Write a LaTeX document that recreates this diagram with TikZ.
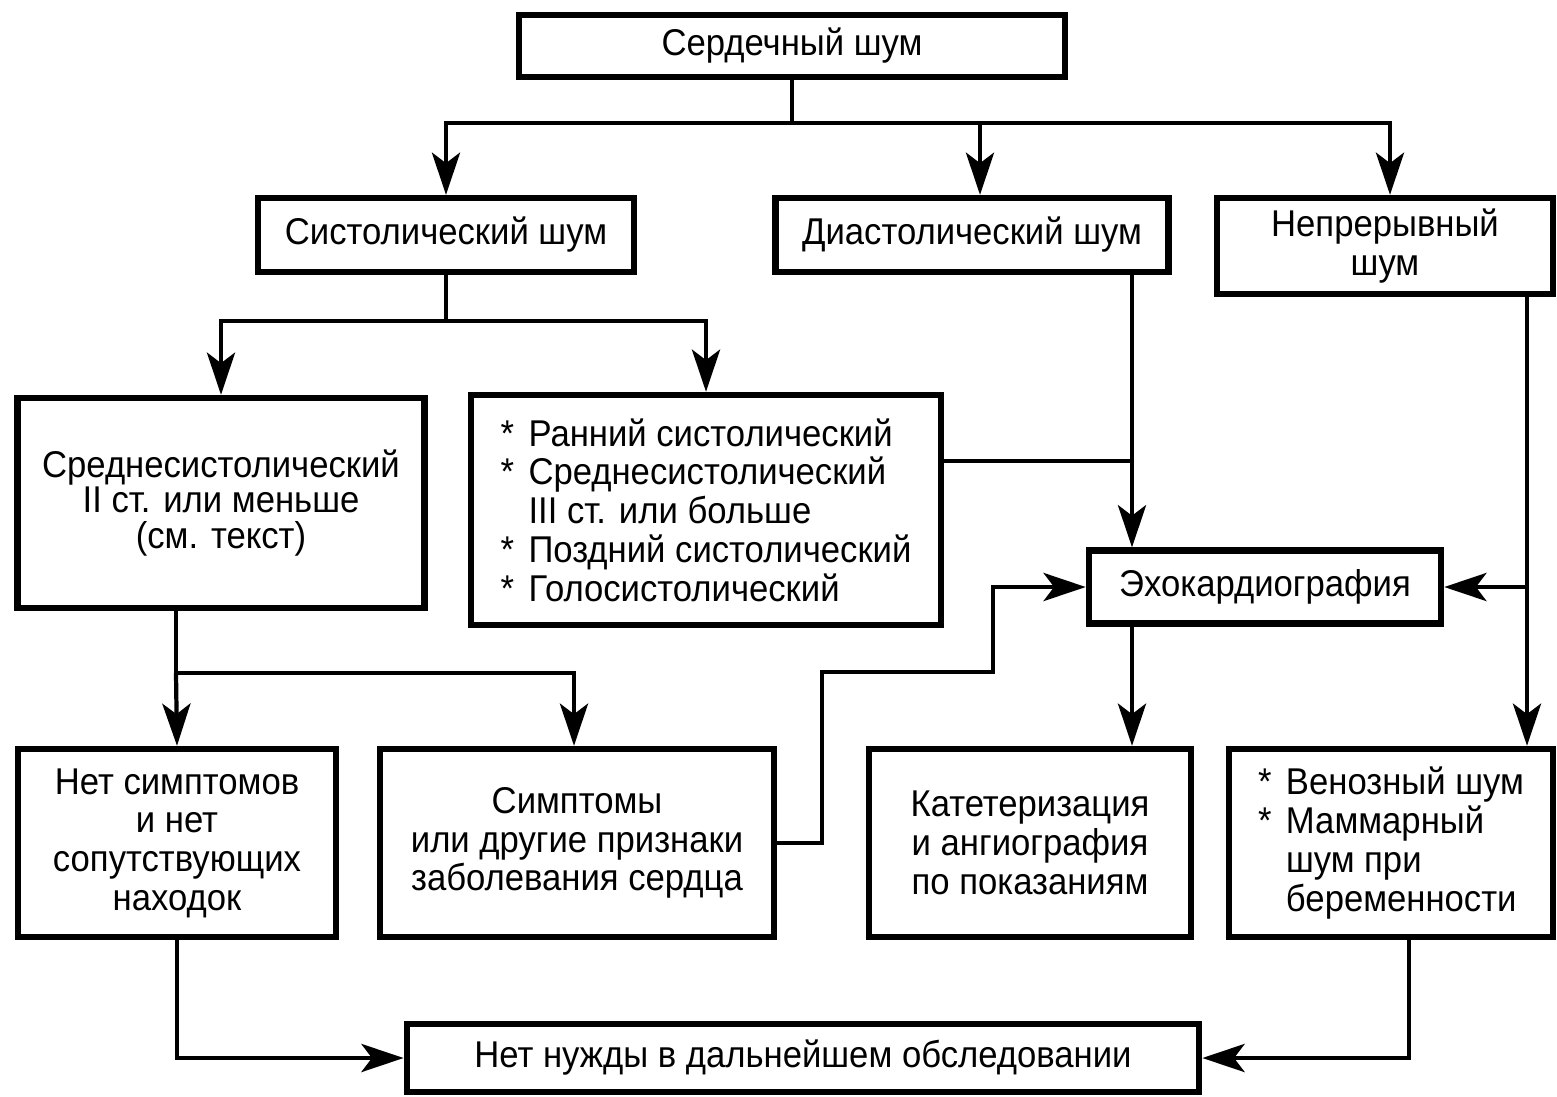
\documentclass[tikz,border=0pt]{standalone}
\usepackage{fontspec}
\setmainfont[FakeStretch=0.93]{Liberation Sans}
\usetikzlibrary{arrows.meta,positioning}

\tikzset{
  box/.style={draw, line width=1.8pt, align=center, inner sep=2pt,
    font=\fontsize{10.6}{11}\selectfont},
  ln/.style={line width=1.2pt},
  arr/.style={line width=1.2pt, -{Stealth[length=12pt,width=8pt,inset=3pt]}},
}
\newcommand{\itm}{\makebox[0.75em][l]{*}}
\newcommand{\ind}{\hspace*{0.75em}}

\begin{document}
\begin{tikzpicture}[x=0.01cm, y=-0.01cm]
        \useasboundingbox (0,0) rectangle (1557,1096);
        % top level
        \node[box, minimum width=5.46cm, minimum height=0.62cm, name=heart] at (792, 46) {Сердечный шум};
        \node[box, minimum width=3.76cm, minimum height=0.74cm, name=sys] at (446, 235) {Систолический шум};
        \node[box, minimum width=3.93cm, minimum height=0.74cm, name=dia] at (972, 235) {Диастолический шум};
        \node[box, minimum width=3.36cm, minimum height=0.96cm, name=cont] at (1385, 246) {Непрерывный\\шум};
        % middle
        \node[box, minimum width=4.07cm, minimum height=2.1cm, name=mid, font=\fontsize{10.6}{10}\selectfont] at (221, 503) {Среднесистолический\\II ст. или меньше\\(см. текст)};
        \node[box, minimum width=4.7cm, minimum height=2.3cm, name=list, align=left] at (706, 510) {\itm Ранний систолический\\\itm Среднесистолический\\\ind III ст. или больше\\\itm Поздний систолический\\\itm Голосистолический};
        \node[box, minimum width=3.52cm, minimum height=0.73cm, name=echo] at (1265, 587) {Эхокардиография};
        % lower row
        \node[box, minimum width=3.18cm, minimum height=1.88cm, name=none] at (177, 843) {Нет симптомов\\и нет\\сопутствующих\\находок};
        \node[box, minimum width=3.94cm, minimum height=1.88cm, name=symp] at (577, 843) {Симптомы\\или другие признаки\\заболевания сердца};
        \node[box, minimum width=3.22cm, minimum height=1.88cm, name=cath] at (1030, 843) {Катетеризация\\и ангиография\\по показаниям};
        \node[box, minimum width=3.24cm, minimum height=1.88cm, name=ven, align=left] at (1391, 843) {\itm Венозный шум\\\itm Маммарный\\\ind шум при\\\ind беременности};
        \node[box, minimum width=7.92cm, minimum height=0.68cm, name=nofurther] at (803, 1058) {Нет нужды в дальнейшем обследовании};
        % branch points
        \coordinate (t1) at (792, 123);
        \coordinate (t2) at (446, 321);
        \coordinate (t3) at (176, 673);
        \coordinate (j1) at (1132, 461);
        \coordinate (j2) at (1527, 587);
        \coordinate (k1) at (822, 672);
        \coordinate (k2) at (993, 672);
        \coordinate (k3) at (1409, 1058);
        % connectors
        \draw[ln] (heart.south) -- (t1);
        \draw[arr] (t1) -| (sys.north);
        \draw[arr] (t1) -| ([xshift=0.08cm]dia.north);
        \draw[arr] (t1) -| ([xshift=0.05cm]cont.north);
        \draw[ln] (sys.south) -- (t2);
        \draw[arr] (t2) -| (mid.north);
        \draw[arr] (t2) -| (list.north);
        \draw[ln] (t3 |- mid.south) -- (t3);
        \draw[arr] (t3) -- (none.north);
        \draw[arr] (t3) -| ([xshift=-0.03cm]symp.north);
        \draw[ln] (list.east |- j1) -- (j1);
        \draw[arr] (dia.south -| j1) -- (echo.north -| j1);
        \draw[arr] (echo.south -| j1) -- (cath.north -| j1);
        \draw[arr] (cont.south -| j2) -- (ven.north -| j2);
        \draw[arr] (j2) -- (echo.east);
        \draw[arr] (symp.east) -| (k1) -- (k2) |- (echo.west);
        \draw[arr] (none.south) |- (nofurther.west);
        \draw[arr] (ven.south -| k3) -- (k3) -- (nofurther.east);
    \end{tikzpicture}
\end{document}
